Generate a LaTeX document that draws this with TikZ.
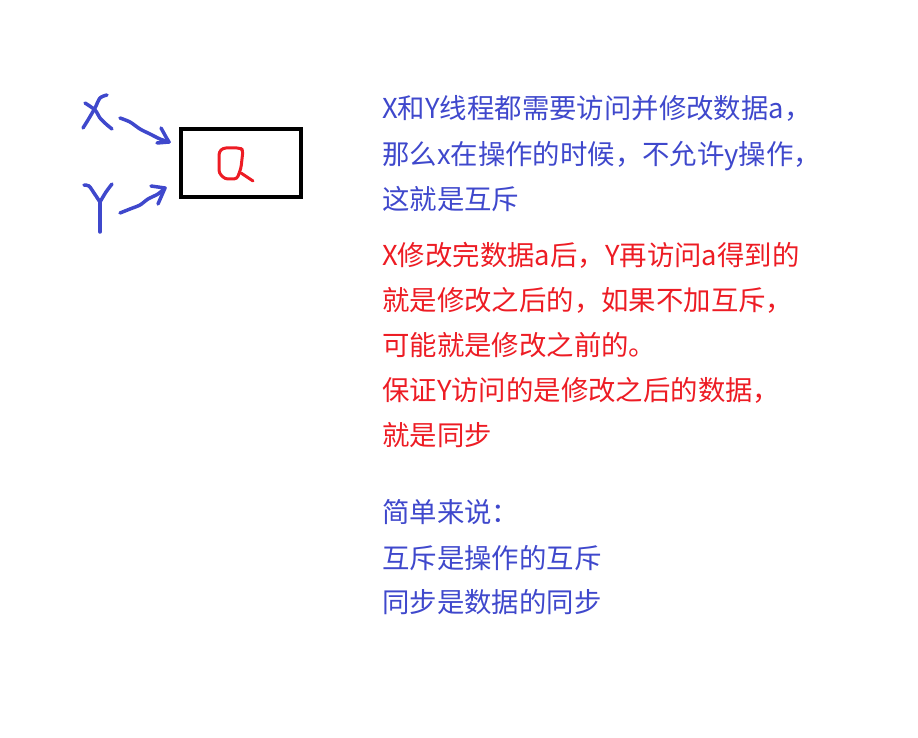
\documentclass[tikz,border=0pt]{standalone}
\usepackage{fontspec}
\setmainfont{Noto Sans CJK SC}
\usetikzlibrary{positioning}
\definecolor{penblue}{RGB}{63,72,204}
\definecolor{penred}{RGB}{237,28,36}
\tikzset{
    pen/.style={penblue, line width=3.5pt, line cap=round, line join=round},
    redpen/.style={penred, line width=3pt, line cap=round, line join=round},
    note/.style={anchor=base west, inner sep=0pt, font=\fontsize{27.4}{32}\selectfont},
}

\begin{document}
\begin{tikzpicture}[x=1pt, y=-1pt]
    \useasboundingbox (0,0) rectangle (918,738);

    % box holding the data
    \node[draw, line width=4pt, minimum width=120pt, minimum height=68pt, inner sep=0pt] (databox) at (241,163) {};
    \draw[redpen, rounded corners=3pt] (243,150) -- (241,168) -- (237,179) -- (225,179) -- (219,173) -- (219,152) -- (223,148) -- (240,148) -- cycle;
    \draw[redpen] (241,173) -- (253,181);

    % X and Y
    \draw[pen] plot[smooth] coordinates {(107,95) (100,98) (95,108) (88,120) (83,128)};
    \draw[pen] plot[smooth] coordinates {(85,103) (95,110) (100,118) (106,124) (112,129)};
    \draw[pen] plot[smooth] coordinates {(84,185) (89,186) (94,193) (100,202)};
    \draw[pen] plot[smooth] coordinates {(112,184) (106,192) (100,202)};
    \draw[pen] (100,202) -- (100,232);

    \coordinate (xtip) at (169,142);
    \coordinate (ytip) at (165,188);
    \draw[pen] plot[smooth] coordinates {(120,118) (130,122) (140,129) (150,134) (160,139) (xtip)};
    \draw[pen] (161,128) -- (166,137) -- (xtip) -- (157,143);
    \draw[pen] plot[smooth] coordinates {(120,213) (130,209) (140,205) (148,199) (158,194) (ytip)};
    \draw[pen] (151,186) -- (ytip) -- (158,204);

    % notes
    \foreach \y/\t [count=\i] in {119/X和Y线程都需要访问并修改数据a，,
        165/那么x在操作的时候，不允许y操作，,
        210/这就是互斥}
        \node[note, penblue] (mutex\i) at (382,\y) {\t};

    \foreach \y/\t [count=\i] in {265/X修改完数据a后，Y再访问a得到的,
        310/就是修改之后的，如果不加互斥，,
        355/可能就是修改之前的。,
        400/保证Y访问的是修改之后的数据，,
        445/就是同步}
        \node[note, penred] (sync\i) at (382,\y) {\t};

    \foreach \y/\t [count=\i] in {522/简单来说：,
        568/互斥是操作的互斥,
        612/同步是数据的同步}
        \node[note, penblue] (summary\i) at (382,\y) {\t};
\end{tikzpicture}
\end{document}
